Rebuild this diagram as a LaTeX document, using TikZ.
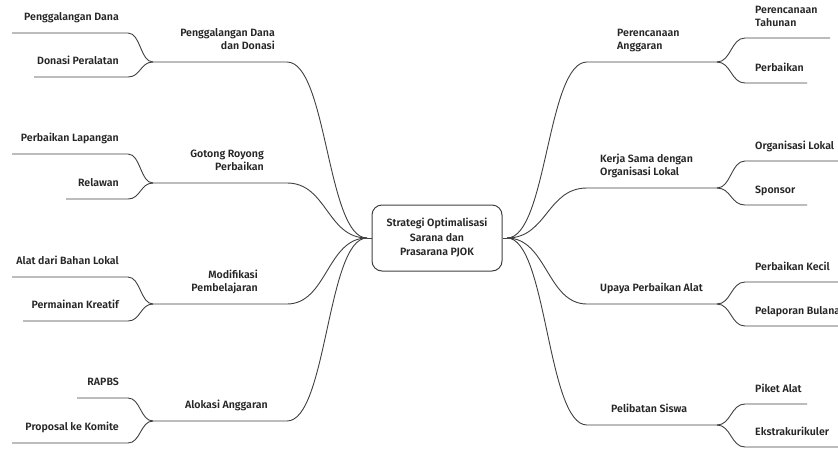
\documentclass[tikz,border=0pt]{standalone}
\usepackage{fontspec}
\setmainfont{Fira Sans}[UprightFont=* SemiBold]
\begin{document}
\begin{tikzpicture}[x=1pt,y=-1pt,
  lnk/.style={draw=black!75, line width=0.9pt},
  lbl/.style={inner sep=0pt, font=\fontsize{10.6}{13}\selectfont, text=black!85},
  lt/.style={lbl, anchor=base east, align=right},
  rt/.style={lbl, anchor=base west, align=left},
  hub/.style={draw=black!75, line width=1pt, rounded corners=10pt, minimum width=130pt, minimum height=66pt, inner sep=0pt, align=center, font=\fontsize{10.6}{14.5}\selectfont, text=black!85}]
\useasboundingbox (0,0) rectangle (838,448);
\clip (0,0) rectangle (838,448);
% centre
\node[hub] (center) at (437,238) {Strategi Optimalisasi\\Sarana dan\\Prasarana PJOK};
\coordinate (CL) at (367,238);
\coordinate (CR) at (507,238);
\draw[lnk] (CL) -- (center.west);
\draw[lnk] (CR) -- (center.east);
% ---------- left branches ----------
% L1
\coordinate (L1a) at (153,62); \coordinate (L1b) at (287,62);
\draw[lnk] (L1a) -- (L1b) .. controls (327,62) and (327,238) .. (CL);
\node[lt] (L1t) at (275,49) {Penggalangan Dana\\dan Donasi};
\coordinate (L1c1a) at (12,33); \coordinate (L1c1b) at (128,33);
\draw[lnk] (L1c1a) -- (L1c1b) .. controls (140.5,33) and (140.5,62) .. (L1a);
\node[lt] (L1c1t) at (119,20) {Penggalangan Dana};
\coordinate (L1c2a) at (34,77); \coordinate (L1c2b) at (128,77);
\draw[lnk] (L1c2a) -- (L1c2b) .. controls (140.5,77) and (140.5,62) .. (L1a);
\node[lt] (L1c2t) at (119,64) {Donasi Peralatan};
% L2
\coordinate (L2a) at (153,183); \coordinate (L2b) at (287,183);
\draw[lnk] (L2a) -- (L2b) .. controls (327,183) and (327,238) .. (CL);
\node[lt] (L2t) at (264,170) {Gotong Royong\\Perbaikan};
\coordinate (L2c1a) at (12,154); \coordinate (L2c1b) at (128,154);
\draw[lnk] (L2c1a) -- (L2c1b) .. controls (140.5,154) and (140.5,183) .. (L2a);
\node[lt] (L2c1t) at (119,141) {Perbaikan Lapangan};
\coordinate (L2c2a) at (66,199); \coordinate (L2c2b) at (128,199);
\draw[lnk] (L2c2a) -- (L2c2b) .. controls (140.5,199) and (140.5,183) .. (L2a);
\node[lt] (L2c2t) at (119,186) {Relawan};
% L3
\coordinate (L3a) at (153,304); \coordinate (L3b) at (287,304);
\draw[lnk] (L3a) -- (L3b) .. controls (327,304) and (327,238) .. (CL);
\node[lt] (L3t) at (258,291) {Modifikasi\\Pembelajaran};
\coordinate (L3c1a) at (12,277); \coordinate (L3c1b) at (128,277);
\draw[lnk] (L3c1a) -- (L3c1b) .. controls (140.5,277) and (140.5,304) .. (L3a);
\node[lt] (L3c1t) at (119,264) {Alat dari Bahan Lokal};
\coordinate (L3c2a) at (23,321); \coordinate (L3c2b) at (128,321);
\draw[lnk] (L3c2a) -- (L3c2b) .. controls (140.5,321) and (140.5,304) .. (L3a);
\node[lt] (L3c2t) at (119,308) {Permainan Kreatif};
% L4
\coordinate (L4a) at (153,421); \coordinate (L4b) at (287,421);
\draw[lnk] (L4a) -- (L4b) .. controls (327,421) and (327,238) .. (CL);
\node[lt] (L4t) at (268,408) {Alokasi Anggaran};
\coordinate (L4c1a) at (77,398); \coordinate (L4c1b) at (128,398);
\draw[lnk] (L4c1a) -- (L4c1b) .. controls (140.5,398) and (140.5,421) .. (L4a);
\node[lt] (L4c1t) at (119,385) {RAPBS};
\coordinate (L4c2a) at (12,443); \coordinate (L4c2b) at (128,443);
\draw[lnk] (L4c2a) -- (L4c2b) .. controls (140.5,443) and (140.5,421) .. (L4a);
\node[lt] (L4c2t) at (119,430) {Proposal ke Komite};
% ---------- right branches ----------
% R1
\coordinate (R1a) at (587,62); \coordinate (R1b) at (717,62);
\draw[lnk] (CR) .. controls (547,238) and (547,62) .. (R1a) -- (R1b);
\node[rt] (R1t) at (617,49) {Perencanaan\\Anggaran};
\coordinate (R1c1a) at (745,38); \coordinate (R1c1b) at (830,38);
\draw[lnk] (R1b) .. controls (731,62) and (731,38) .. (R1c1a) -- (R1c1b);
\node[rt] (R1c1t) at (755,26) {Perencanaan\\Tahunan};
\coordinate (R1c2a) at (745,83); \coordinate (R1c2b) at (807,83);
\draw[lnk] (R1b) .. controls (731,62) and (731,83) .. (R1c2a) -- (R1c2b);
\node[rt] (R1c2t) at (755,71) {Perbaikan};
% R2
\coordinate (R2a) at (587,188); \coordinate (R2b) at (717,188);
\draw[lnk] (CR) .. controls (547,238) and (547,188) .. (R2a) -- (R2b);
\node[rt] (R2t) at (600,175) {Kerja Sama dengan\\Organisasi Lokal};
\coordinate (R2c1a) at (745,161); \coordinate (R2c1b) at (845,161);
\draw[lnk] (R2b) .. controls (731,188) and (731,161) .. (R2c1a) -- (R2c1b);
\node[rt] (R2c1t) at (755,149) {Organisasi Lokal};
\coordinate (R2c2a) at (745,205); \coordinate (R2c2b) at (807,205);
\draw[lnk] (R2b) .. controls (731,188) and (731,205) .. (R2c2a) -- (R2c2b);
\node[rt] (R2c2t) at (755,193) {Sponsor};
% R3
\coordinate (R3a) at (587,304); \coordinate (R3b) at (717,304);
\draw[lnk] (CR) .. controls (547,238) and (547,304) .. (R3a) -- (R3b);
\node[rt] (R3t) at (600,291) {Upaya Perbaikan Alat};
\coordinate (R3c1a) at (745,282); \coordinate (R3c1b) at (845,282);
\draw[lnk] (R3b) .. controls (731,304) and (731,282) .. (R3c1a) -- (R3c1b);
\node[rt] (R3c1t) at (755,270) {Perbaikan Kecil};
\coordinate (R3c2a) at (745,326); \coordinate (R3c2b) at (845,326);
\draw[lnk] (R3b) .. controls (731,304) and (731,326) .. (R3c2a) -- (R3c2b);
\node[rt] (R3c2t) at (755,314) {Pelaporan Bulanan};
% R4
\coordinate (R4a) at (587,425); \coordinate (R4b) at (717,425);
\draw[lnk] (CR) .. controls (547,238) and (547,425) .. (R4a) -- (R4b);
\node[rt] (R4t) at (611,412) {Pelibatan Siswa};
\coordinate (R4c1a) at (745,404); \coordinate (R4c1b) at (807,404);
\draw[lnk] (R4b) .. controls (731,425) and (731,404) .. (R4c1a) -- (R4c1b);
\node[rt] (R4c1t) at (755,392) {Piket Alat};
\coordinate (R4c2a) at (745,447); \coordinate (R4c2b) at (845,447);
\draw[lnk] (R4b) .. controls (731,425) and (731,447) .. (R4c2a) -- (R4c2b);
\node[rt] (R4c2t) at (755,435) {Ekstrakurikuler};
\end{tikzpicture}
\end{document}
